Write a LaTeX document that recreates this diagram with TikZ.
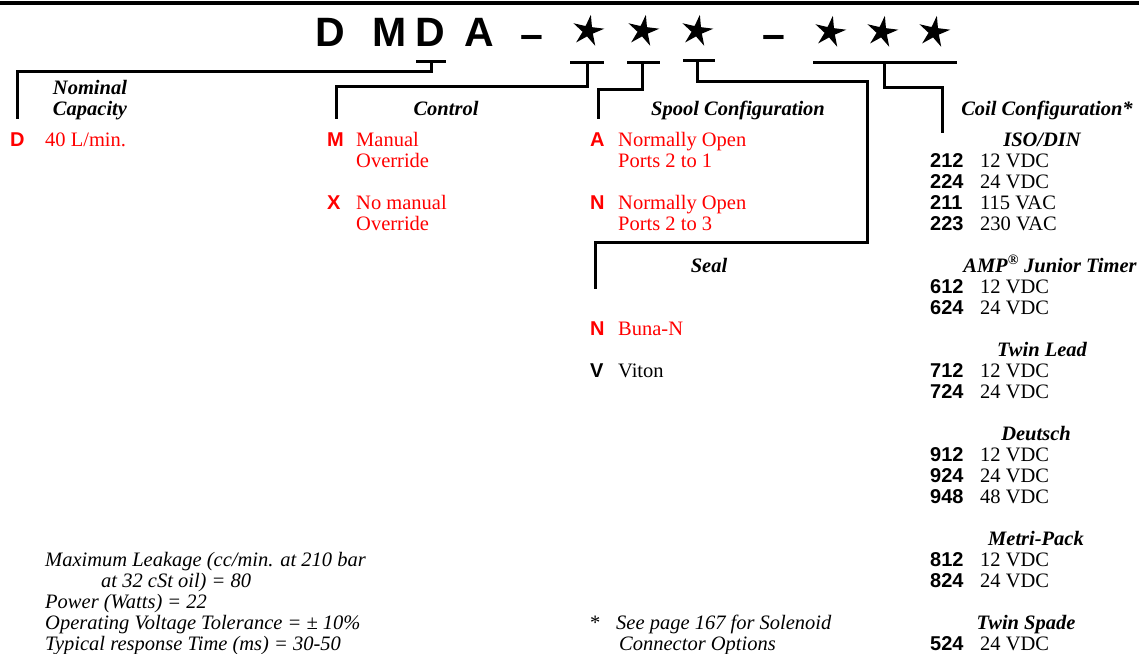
\documentclass[tikz,border=0pt]{standalone}
\usepackage{fontspec}
\setmainfont{Liberation Serif}
\newfontfamily\hsans{Liberation Sans}
\begin{document}
\begin{tikzpicture}[x=1pt,y=-1pt,
  txt/.style={anchor=base west, inner sep=0pt, font=\fontsize{20.5}{21}\selectfont},
  rtxt/.style={txt, text=red},
  itx/.style={txt, font=\itshape\fontsize{20.5}{21}\selectfont},
  code/.style={anchor=base west, inner sep=0pt, font=\hsans\bfseries\fontsize{20}{21}\selectfont},
  rcode/.style={code, text=red},
  hdr/.style={anchor=base, inner sep=0pt, font=\bfseries\itshape\fontsize{20.5}{21}\selectfont},
  ttl/.style={anchor=base, inner sep=0pt, font=\hsans\bfseries\fontsize{41}{44}\selectfont},
  starpic/.pic={\fill (-80:16.5) -- (-116:5.5) -- (-152:16.5) -- (-188:5.5) -- (-224:16.5)
      -- (-260:5.5) -- (-296:16.5) -- (-332:5.5) -- (-8:16.5) -- (-44:5.5) -- cycle;},
  conn/.style={line width=3pt, line cap=rect, line join=miter},
  rule/.style={line width=4pt}
]
\useasboundingbox (0,0) rectangle (1139,653);
% top rule
\coordinate (rl) at (0,3);
\coordinate (rr) at (1139,3);
\draw[rule] (rl) -- (rr);

% title
\node[ttl] (tD1) at (330.5,46) {D};
\node[ttl] (tM) at (389.5,46) {M};
\node[ttl] (tD2) at (430.5,46) {D};
\node[ttl] (tA) at (479,46) {A};
\node[ttl] (td1) at (532,48) {–};
\coordinate (s1) at (588,31);
\coordinate (s2) at (643,31);
\coordinate (s3) at (697,31);
\node[ttl] (td2) at (774,48) {–};
\coordinate (s4) at (830,32);
\coordinate (s5) at (882,32);
\coordinate (s6) at (934,32);
\foreach \s in {s1,s2,s3,s4,s5,s6} { \pic at (\s) {starpic}; }

% headers
\node[hdr] (hNom) at (90,94) {Nominal};
\node[hdr] (hCap) at (90,115) {Capacity};
\node[hdr] (hCtl) at (446,115) {Control};
\node[hdr] (hSpool) at (738,115) {Spool Configuration};
\node[hdr] (hCoil) at (1047,115) {Coil Configuration*};
\node[hdr] (hSeal) at (709,272) {Seal};

% connectors
\coordinate (k1l) at (417,61); \coordinate (k1r) at (444,61); \coordinate (k1) at (431,61);
\coordinate (k1a) at (431,71); \coordinate (k1b) at (17,71); \coordinate (k1e) at (17,117);
\draw[conn] (k1l) -- (k1r);
\draw[conn] (k1) -- (k1a) -- (k1b) -- (k1e);

\coordinate (k2l) at (571,62); \coordinate (k2r) at (602,62); \coordinate (k2) at (587,62);
\coordinate (k2a) at (587,86); \coordinate (k2b) at (336,86); \coordinate (k2e) at (336,117);
\draw[conn] (k2l) -- (k2r);
\draw[conn] (k2) -- (k2a) -- (k2b) -- (k2e);

\coordinate (k3l) at (628,62); \coordinate (k3r) at (658,62); \coordinate (k3) at (642,62);
\coordinate (k3a) at (642,89); \coordinate (k3b) at (598,89); \coordinate (k3e) at (598,117);
\draw[conn] (k3l) -- (k3r);
\draw[conn] (k3) -- (k3a) -- (k3b) -- (k3e);

\coordinate (k4l) at (684,60); \coordinate (k4r) at (713,60); \coordinate (k4) at (697,60);
\coordinate (k4a) at (697,81); \coordinate (k4b) at (867,81); \coordinate (k4c) at (867,242);
\coordinate (k4d) at (595,242); \coordinate (k4e) at (595,287);
\draw[conn] (k4l) -- (k4r);
\draw[conn] (k4) -- (k4a) -- (k4b) -- (k4c) -- (k4d) -- (k4e);

\coordinate (k5l) at (814,62); \coordinate (k5r) at (955,62); \coordinate (k5) at (884,62);
\coordinate (k5a) at (884,87); \coordinate (k5b) at (942,87); \coordinate (k5e) at (942,131);
\draw[conn] (k5l) -- (k5r);
\draw[conn] (k5) -- (k5a) -- (k5b) -- (k5e);

% Nominal capacity
\node[rcode] (cD) at (10,146) {D};
\node[rtxt] (vD) at (45,146) {40 L/min.};

% Control
\node[rcode] (cM) at (327,146) {M};
\node[rtxt] (vM1) at (356,146) {Manual};
\node[rtxt] (vM2) at (356,167) {Override};
\node[rcode] (cX) at (327,209) {X};
\node[rtxt] (vX1) at (356,209) {No manual};
\node[rtxt] (vX2) at (356,230) {Override};

% Spool
\node[rcode] (cA) at (590,146) {A};
\node[rtxt] (vA1) at (618,146) {Normally Open};
\node[rtxt] (vA2) at (618,167) {Ports 2 to 1};
\node[rcode] (cN) at (590,209) {N};
\node[rtxt] (vN1) at (618,209) {Normally Open};
\node[rtxt] (vN2) at (618,230) {Ports 2 to 3};

% Seal
\node[rcode] (cSN) at (590,335) {N};
\node[rtxt] (vSN) at (618,335) {Buna-N};
\node[code] (cSV) at (590,377) {V};
\node[txt] (vSV) at (618,377) {Viton};

% Coil
\node[hdr] (hIso) at (1042,146) {ISO/DIN};
\node[code] (c212) at (930,167) {212}; \node[txt] (v212) at (980,167) {12 VDC};
\node[code] (c224) at (930,188) {224}; \node[txt] (v224) at (980,188) {24 VDC};
\node[code] (c211) at (930,209) {211}; \node[txt] (v211) at (980,209) {115 VAC};
\node[code] (c223) at (930,230) {223}; \node[txt] (v223) at (980,230) {230 VAC};
\node[hdr] (hAmp) at (1050,272) {AMP\textsuperscript{\textregistered} Junior Timer};
\node[code] (c612) at (930,293) {612}; \node[txt] (v612) at (980,293) {12 VDC};
\node[code] (c624) at (930,314) {624}; \node[txt] (v624) at (980,314) {24 VDC};
\node[hdr] (hTwin) at (1042,356) {Twin Lead};
\node[code] (c712) at (930,377) {712}; \node[txt] (v712) at (980,377) {12 VDC};
\node[code] (c724) at (930,398) {724}; \node[txt] (v724) at (980,398) {24 VDC};
\node[hdr] (hDeu) at (1036,440) {Deutsch};
\node[code] (c912) at (930,461) {912}; \node[txt] (v912) at (980,461) {12 VDC};
\node[code] (c924) at (930,482) {924}; \node[txt] (v924) at (980,482) {24 VDC};
\node[code] (c948) at (930,503) {948}; \node[txt] (v948) at (980,503) {48 VDC};
\node[hdr] (hMet) at (1036,545) {Metri-Pack};
\node[code] (c812) at (930,566) {812}; \node[txt] (v812) at (980,566) {12 VDC};
\node[code] (c824) at (930,587) {824}; \node[txt] (v824) at (980,587) {24 VDC};
\node[hdr] (hSpade) at (1026,629) {Twin Spade};
\node[code] (c524) at (930,650) {524}; \node[txt] (v524) at (980,650) {24 VDC};

% specs
\node[itx] (sp1) at (45,566) {Maximum Leakage (cc/min. at 210 bar};
\node[itx] (sp2) at (101,587) {at 32 cSt oil) = 80};
\node[itx] (sp3) at (45,608) {Power (Watts) = 22};
\node[itx] (sp4) at (45,629) {Operating Voltage Tolerance = ± 10\%};
\node[itx] (sp5) at (45,650) {Typical response Time (ms) = 30-50};

% footnote
\node[txt] (fs) at (590,629) {*};
\node[itx] (fn1) at (616,629) {See page 167 for Solenoid};
\node[itx] (fn2) at (619,650) {Connector Options};
\end{tikzpicture}
\end{document}
